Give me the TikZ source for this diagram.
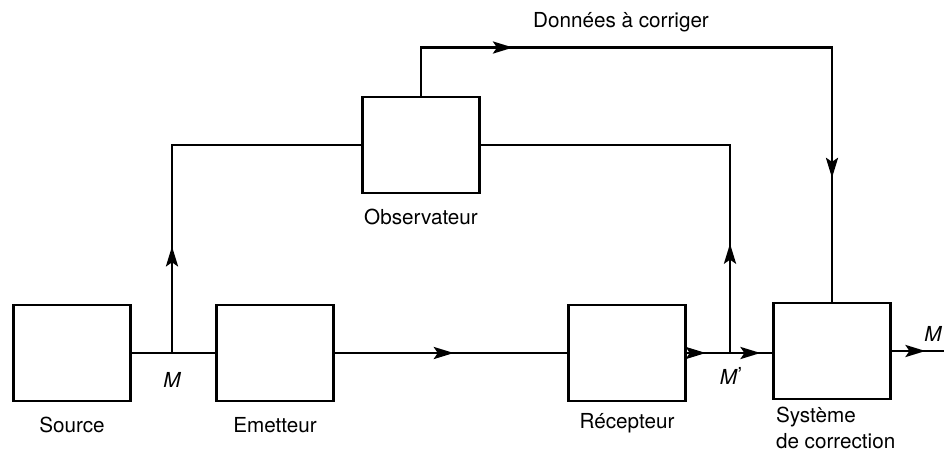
\documentclass[tikz,border=0pt]{standalone}
\usepackage{fontspec}
\setmainfont{TeX Gyre Heros}
\usetikzlibrary{arrows.meta,positioning,decorations.markings}

\begin{document}
\begin{tikzpicture}[x=0.75pt, y=-0.75pt, line width=2.2pt, node distance=8pt,
  box/.style={draw, minimum width=88pt, minimum height=72pt},
  lbl/.style={font=\fontsize{15.5}{19}\selectfont, inner sep=0pt},
  sig/.style={font=\fontsize{15.5}{19}\selectfont\itshape, inner sep=0pt},
  tip/.style={postaction={decorate}, decoration={markings,
    mark=at position #1 with {\arrow{Stealth[length=15pt,width=9pt,inset=3pt]}}}},
  tiptwo/.style 2 args={postaction={decorate}, decoration={markings,
    mark=at position #1 with {\arrow{Stealth[length=15pt,width=9pt,inset=3pt]}},
    mark=at position #2 with {\arrow{Stealth[length=15pt,width=9pt,inset=3pt]}}}}]
\useasboundingbox (0,0) rectangle (944,452);
% blocks
\node[box] (src) at (72,353) {};
\node[box] (em) at (275,353) {};
\node[box] (rec) at (627,353) {};
\node[box] (sys) at (832,351) {};
\node[box] (obs) at (421,145) {};
% block names
\node[lbl, below=10pt of src] (srclbl) {Source};
\node[lbl, below=10pt of em] (emlbl) {Emetteur};
\node[lbl, below=7pt of rec] (reclbl) {Récepteur};
\node[lbl, below=10pt of obs] (obslbl) {Observateur};
\node[lbl, align=left, anchor=north west] (syslbl) at ([xshift=2pt, yshift=-4pt]sys.south west) {Système\\de correction};
% junctions
\coordinate (jm) at (172,353);
\coordinate (jmp) at (730,353);
\node[sig] (mlbl) at (172,380) {M};
\node[sig] (mplbl) at (731,376) {M\kern0.5pt\raisebox{2pt}{\normalfont\upshape'}};
\node[sig, anchor=east] (outlbl) at (943,334) {M};
\node[lbl] (datlbl) at (621,22) {Données à corriger};
% signal path
\draw (src.east) -- (em.west);
\draw[tip=89pt] (em.east) -- (rec.west);
\draw[tiptwo={14pt}{55pt}] (rec.east) -- (jmp) -- (jmp -| sys.west);
\coordinate (out) at ([xshift=60pt]sys.east);
\draw[tip=25pt] (sys.east) -- (out);
% observation
\draw[tip=80pt] (jm) |- (obs.west);
\draw[tip=82pt] (jmp) |- (obs.east);
\draw[tiptwo={105pt}{442pt}] (obs.north) -- ++(0,-48) -| (sys.north);
\end{tikzpicture}
\end{document}
